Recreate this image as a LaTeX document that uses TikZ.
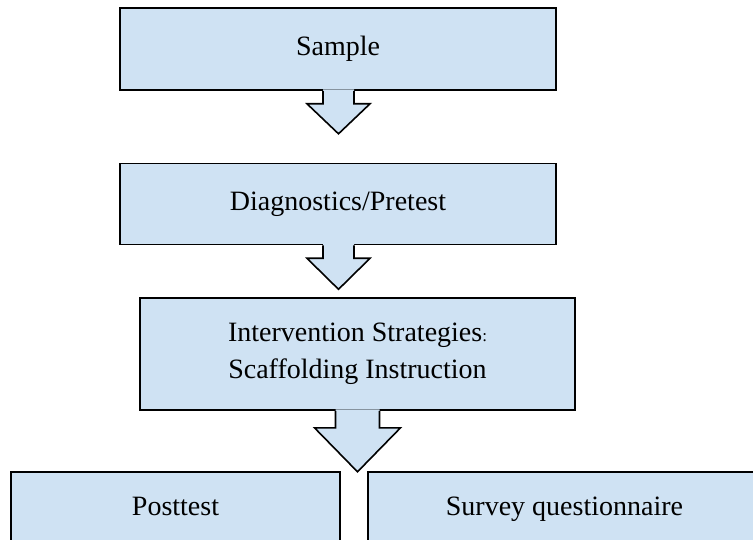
\documentclass[tikz,border=0pt]{standalone}
\usepackage{fontspec}
\setmainfont{Liberation Serif}
\usepackage{tikz}

\definecolor{boxblue}{RGB}{207,226,243}

\tikzset{
  stagebox/.style={draw=black, fill=boxblue, line width=1.6pt, align=center,
    font=\fontsize{28}{37}\selectfont},
  arrowfill/.style={fill=boxblue},
  arrowline/.style={draw=black, line width=1.6pt, line join=miter}
}

\begin{document}
\begin{tikzpicture}[x=1pt, y=-1pt]

  % Page frame.
  \clip (0,0) rectangle (753,540);

  % Stages of the study.
  \node[stagebox, minimum width=436pt, minimum height=82pt] (sample) at (338,49) {Sample};
  \node[stagebox, minimum width=436pt, minimum height=81pt] (pretest) at (338,204) {Diagnostics/Pretest};
  \node[stagebox, minimum width=435pt, minimum height=112pt] (strategy) at (357.5,354)
    {Intervention Strategies{\fontsize{17}{17}\selectfont:}\\Scaffolding Instruction};

  % Two boxes at the bottom, cut off by the page.
  \node[stagebox, minimum width=329pt, minimum height=110pt, anchor=north,
    label={[anchor=base, yshift=-44pt, font=\fontsize{28}{37}\selectfont]north:Posttest}]
    (posttest) at (175.5,471) {};
  \node[stagebox, minimum width=393pt, minimum height=110pt, anchor=north,
    label={[anchor=base, yshift=-44pt, font=\fontsize{28}{37}\selectfont]north:Survey questionnaire}]
    (survey) at (564.5,471) {};

  % Block arrow from Sample to Diagnostics.
  \fill[arrowfill] ([xshift=-15pt, yshift=1.5pt]sample.south) -- ++(0,14.5) -- ++(-16,0)
    -- ++(31.5,30) -- ++(31.5,-30) -- ++(-16,0) -- ++(0,-14.5) -- cycle;
  \draw[arrowline] ([xshift=-15pt]sample.south) -- ++(0,13) -- ++(-16,0)
    -- ++(31.5,30) -- ++(31.5,-30) -- ++(-16,0) -- ++(0,-13);

  % Block arrow from Diagnostics to Intervention.
  \fill[arrowfill] ([xshift=-15pt, yshift=1.5pt]pretest.south) -- ++(0,14.5) -- ++(-16,0)
    -- ++(31.5,31) -- ++(31.5,-31) -- ++(-16,0) -- ++(0,-14.5) -- cycle;
  \draw[arrowline] ([xshift=-15pt]pretest.south) -- ++(0,13) -- ++(-16,0)
    -- ++(31.5,31) -- ++(31.5,-31) -- ++(-16,0) -- ++(0,-13);

  % Large block arrow down to the two last boxes.
  \fill[arrowfill] ([xshift=-22pt, yshift=1.5pt]strategy.south) -- ++(0,18.5) -- ++(-21,0)
    -- ++(43,44) -- ++(43,-44) -- ++(-21,0) -- ++(0,-18.5) -- cycle;
  \draw[arrowline] ([xshift=-22pt]strategy.south) -- ++(0,17) -- ++(-21,0)
    -- ++(43,44) -- ++(43,-44) -- ++(-21,0) -- ++(0,-17);

\end{tikzpicture}
\end{document}
